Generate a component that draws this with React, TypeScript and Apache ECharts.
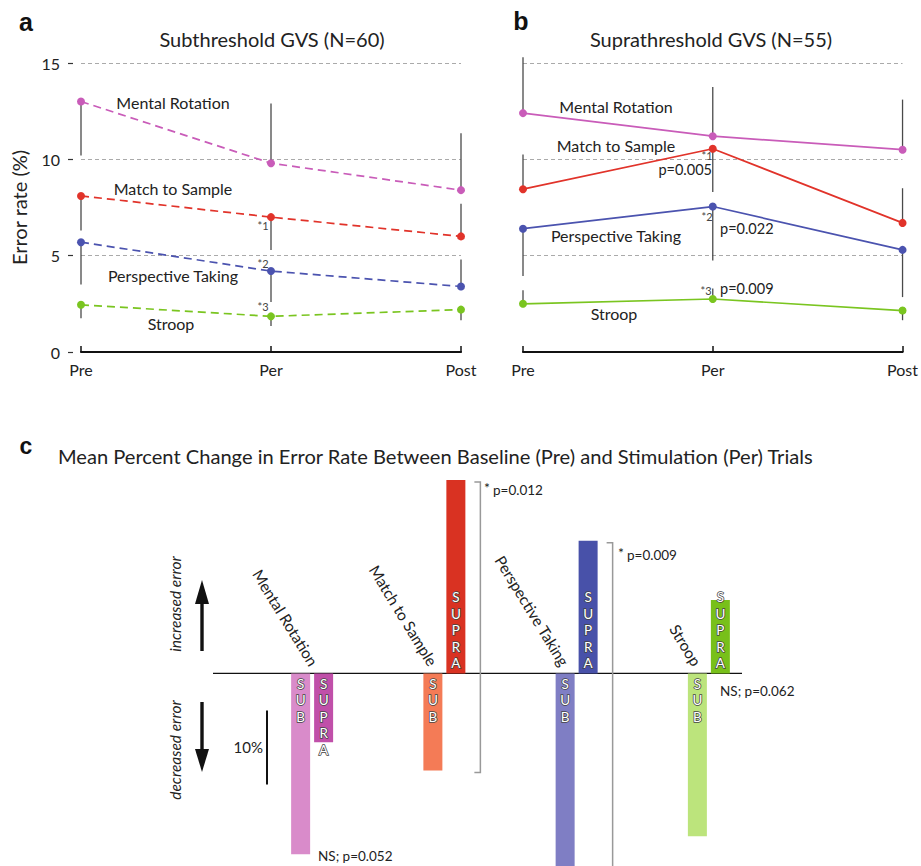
import React, { useEffect, useRef } from "react";
import * as echarts from "echarts";

// ---------- data ----------
const phases = ["Pre", "Per", "Post"];
const tasks = ["Mental Rotation", "Match to Sample", "Perspective Taking", "Stroop"];
const taskColors = ["#c95cb9", "#e1332a", "#4b53af", "#7ac520"];

// Panel a: Subthreshold GVS (N=60) – mean error rate (%)
const subMR = [13.0, 9.8, 8.4];
const subMtS = [8.1, 7.0, 6.0];
const subPT = [5.7, 4.2, 3.4];
const subStroop = [2.45, 1.85, 2.2];
// one-sided error bar end values
const subErrMR = [10.2, 12.9, 11.35];
const subErrMtS = [6.3, 5.3, 7.7];
const subErrPT = [3.5, 2.6, 4.8];
const subErrStroop = [1.75, 1.35, 1.65];

// Panel b: Suprathreshold GVS (N=55)
const supMR = [12.4, 11.2, 10.5];
const supMtS = [8.45, 10.55, 6.7];
const supPT = [6.4, 7.55, 5.3];
const supStroop = [2.5, 2.75, 2.15];
const supErrMR = [15.3, 13.75, 13.1];
const supErrMtS = [10.25, 8.3, 8.5];
const supErrPT = [3.95, 4.75, 2.85];
const supErrStroop = [3.2, 3.3, 1.65];

// Panel c: mean percent change in error rate (Pre -> Per)
const changeSub = [-24.4, -13.1, -28, -22];
const changeSupra = [-9.3, 26.1, 17.9, 9.9];
const subColors = ["#d98bca", "#f47b56", "#7f7ec4", "#bce47c"];
const supraColors = ["#c04fa9", "#d93222", "#4851a9", "#78c01a"];

const yTicks = [0, 5, 10, 15];

const FONT = 'Lato, "Open Sans", sans-serif';

const subSeries = [subMR, subMtS, subPT, subStroop];
const subErr = [subErrMR, subErrMtS, subErrPT, subErrStroop];
const supSeries = [supMR, supMtS, supPT, supStroop];
const supErr = [supErrMR, supErrMtS, supErrPT, supErrStroop];

function errData(means: number[][], ends: number[][]) {
  const out: number[][] = [];
  means.forEach((m, s) => m.forEach((v, i) => out.push([i, v, ends[s][i]])));
  return out;
}

const errRender = (params: any, api: any) => {
  const p1 = api.coord([api.value(0), api.value(1)]);
  const p2 = api.coord([api.value(0), api.value(2)]);
  return {
    type: "line",
    shape: { x1: p1[0], y1: p1[1], x2: p2[0], y2: p2[1] },
    style: { stroke: "#4a4a4a", lineWidth: 1.3 },
  };
};

function buildOption(): any {
  const xAxisCommon = {
    type: "category",
    data: phases,
    boundaryGap: false,
    axisLine: { lineStyle: { color: "#111", width: 2.2 } },
    axisTick: { inside: true, length: 6, lineStyle: { color: "#111", width: 1.5 } },
    axisLabel: { fontSize: 16, color: "#222", margin: 9, fontFamily: FONT },
  };
  const splitLine = { show: true, lineStyle: { color: "#aaa", type: [4, 3], width: 1 } };
  const lineSeries = (data: number[][], axis: number, dashed: boolean) =>
    data.map((d, s) => ({
      type: "line",
      name: tasks[s],
      xAxisIndex: axis,
      yAxisIndex: axis,
      data: d,
      symbol: "circle",
      symbolSize: 8,
      z: 3,
      itemStyle: { color: taskColors[s] },
      lineStyle: { color: taskColors[s], width: 1.7, type: dashed ? [8, 5] : "solid" },
    }));

  const letterLabel = {
    show: true,
    color: "#fff",
    fontSize: 13.5,
    lineHeight: 16.5,
    distance: 2,
    textBorderColor: "#444",
    textBorderWidth: 1.5,
    fontFamily: FONT,
  };

  return {
    animation: false,
    textStyle: { fontFamily: FONT },
    grid: [
      { left: 81, top: 63, width: 380, height: 289 },
      { left: 523, top: 63, width: 382, height: 289 },
      { left: 246, top: 466, width: 529, height: 405 },
    ],
    xAxis: [
      { ...xAxisCommon, gridIndex: 0 },
      { ...xAxisCommon, gridIndex: 1 },
      {
        type: "category",
        gridIndex: 2,
        data: tasks,
        axisLine: { show: false },
        axisTick: { show: false },
        axisLabel: { show: false },
      },
    ],
    yAxis: [
      {
        type: "value",
        gridIndex: 0,
        min: yTicks[0],
        max: yTicks[yTicks.length - 1],
        interval: 5,
        offset: 8,
        axisLine: { show: false },
        axisTick: { show: true, length: 5, lineStyle: { color: "#333", width: 1.2 } },
        axisLabel: { fontSize: 16, color: "#222", margin: 13, fontFamily: FONT },
        splitLine,
        name: "Error rate (%)",
        nameLocation: "middle",
        nameGap: 44,
        nameTextStyle: { fontSize: 20, color: "#222", fontFamily: FONT },
      },
      {
        type: "value",
        gridIndex: 1,
        min: yTicks[0],
        max: yTicks[yTicks.length - 1],
        interval: 5,
        axisLine: { show: false },
        axisTick: { show: false },
        axisLabel: { show: false },
        splitLine,
      },
      {
        type: "value",
        gridIndex: 2,
        min: -26,
        max: 28,
        show: false,
        splitLine: { show: false },
      },
    ],
    series: [
      {
        type: "custom",
        xAxisIndex: 0,
        yAxisIndex: 0,
        renderItem: errRender,
        data: errData(subSeries, subErr),
        encode: { x: 0, y: [1, 2] },
        z: 1,
      },
      {
        type: "custom",
        xAxisIndex: 1,
        yAxisIndex: 1,
        renderItem: errRender,
        data: errData(supSeries, supErr),
        encode: { x: 0, y: [1, 2] },
        z: 1,
      },
      ...lineSeries(subSeries, 0, true),
      ...lineSeries(supSeries, 1, false),
      {
        type: "bar",
        name: "SUB",
        xAxisIndex: 2,
        yAxisIndex: 2,
        barWidth: 19,
        barGap: "21%",
        data: changeSub.map((v, i) => ({
          value: v,
          itemStyle: { color: subColors[i] },
          label: { position: v < 0 ? "insideTop" : "insideBottom" },
        })),
        label: { ...letterLabel, formatter: "S\nU\nB" },
      },
      {
        type: "bar",
        name: "SUPRA",
        xAxisIndex: 2,
        yAxisIndex: 2,
        barWidth: 19,
        data: changeSupra.map((v, i) => ({
          value: v,
          itemStyle: { color: supraColors[i] },
          label: { position: v < 0 ? "insideTop" : "insideBottom" },
        })),
        label: { ...letterLabel, formatter: "S\nU\nP\nR\nA" },
      },
    ],
  };
}

function txt(text: string, x: number, y: number, o: any = {}): any {
  const { rotation, ...style } = o;
  return {
    type: "text",
    x,
    y,
    rotation: rotation || 0,
    silent: true,
    style: {
      text,
      x: 0,
      y: 0,
      fill: "#222",
      fontSize: 16,
      fontFamily: FONT,
      textAlign: "center",
      textVerticalAlign: "middle",
      ...style,
    },
  };
}

export default function App() {
  const ref = useRef<HTMLDivElement>(null);
  useEffect(() => {
    document.body.style.margin = "0";
    if (!ref.current) return;
    const chart = echarts.init(ref.current, null, { renderer: "svg" });
    chart.setOption(buildOption());

    const pc = (i: number, v: number) => chart.convertToPixel({ gridIndex: 2 }, [i, v]) as number[];
    const y0 = pc(0, 0)[1];
    const g: any[] = [];

    // panel letters + titles
    const bold = { fontFamily: '"Liberation Sans", Arial, sans-serif', fontWeight: "bold", fontSize: 25, fill: "#111" };
    g.push(txt("a", 26, 22, bold));
    g.push(txt("b", 521, 21, bold));
    g.push(txt("c", 26, 446, { ...bold, fontSize: 23 }));
    g.push(txt("Subthreshold GVS (N=60)", 272, 39, { fontSize: 20 }));
    g.push(txt("Suprathreshold GVS (N=55)", 711, 39, { fontSize: 20 }));
    g.push(
      txt("Mean Percent Change in Error Rate Between Baseline (Pre) and Stimulation (Per) Trials", 58, 456, {
        fontSize: 20.1,
        textAlign: "left",
      })
    );

    // panel a labels
    g.push(txt("Mental Rotation", 173, 102));
    g.push(txt("Match to Sample", 173, 188));
    g.push(txt("Perspective Taking", 173, 275));
    g.push(txt("Stroop", 171, 323));
    const star = { fontSize: 11, fill: "#444" };
    g.push(txt("*1", 263, 225, star));
    g.push(txt("*2", 263, 263, star));
    g.push(txt("*3", 263, 306, star));

    // panel b labels
    g.push(txt("Mental Rotation", 616, 106));
    g.push(txt("Match to Sample", 616, 145));
    g.push(txt("Perspective Taking", 616, 235));
    g.push(txt("Stroop", 614, 313));
    g.push(txt("*1", 707, 155, star));
    g.push(txt("*2", 707, 216, star));
    g.push(txt("*3", 706, 290, star));
    const pv = { fontSize: 14.5, textAlign: "left" };
    g.push(txt("p=0.005", 712, 169, { ...pv, textAlign: "right" }));
    g.push(txt("p=0.022", 720, 228, pv));
    g.push(txt("p=0.009", 720, 288, pv));

    // panel c: zero line
    g.push({ type: "line", silent: true, shape: { x1: 213, y1: y0, x2: 742, y2: y0 }, style: { stroke: "#111", lineWidth: 1.2 } });

    // arrows
    g.push({ type: "rect", silent: true, shape: { x: 200.3, y: 600, width: 3.4, height: 51 }, style: { fill: "#111" } });
    g.push({ type: "polygon", silent: true, shape: { points: [[202, 580], [195, 604], [209, 604]] }, style: { fill: "#111" } });
    g.push({ type: "rect", silent: true, shape: { x: 200.3, y: 702, width: 3.4, height: 50 }, style: { fill: "#111" } });
    g.push({ type: "polygon", silent: true, shape: { points: [[195, 749], [209, 749], [202, 772]] }, style: { fill: "#111" } });
    g.push(txt("increased error", 175, 604, { rotation: Math.PI / 2, fontStyle: "italic", fontSize: 15.5 }));
    g.push(txt("decreased error", 175, 750, { rotation: Math.PI / 2, fontStyle: "italic", fontSize: 15.5 }));

    // 10% scale bar
    const sTop = pc(0, -5)[1];
    const sBot = pc(0, -15)[1];
    g.push({ type: "line", silent: true, shape: { x1: 267, y1: sTop, x2: 267, y2: sBot }, style: { stroke: "#111", lineWidth: 2 } });
    g.push(txt("10%", 263, pc(0, -10)[1], { textAlign: "right", fontSize: 15 }));

    // significance brackets (SUPRA top to SUB bottom)
    [1, 2].forEach((i) => {
      const cx = pc(i, 0)[0];
      const bx = cx + 36;
      const top = pc(i, changeSupra[i])[1] + 2;
      const bot = pc(i, changeSub[i])[1] + 2;
      g.push({
        type: "polyline",
        silent: true,
        shape: { points: [[bx - 6, top], [bx, top], [bx, bot], [bx - 6, bot]] },
        style: { stroke: "#999", lineWidth: 1.5, fill: null },
      });
    });
    const ann = { fontSize: 13.5, textAlign: "left" };
    g.push(txt("*", 484, 487, { ...ann, fontSize: 14 }));
    g.push(txt("p=0.012", 493, 490, ann));
    g.push(txt("*", 618, 552, { ...ann, fontSize: 14 }));
    g.push(txt("p=0.009", 627, 555, ann));
    g.push(txt("NS; p=0.052", 318, 856, ann));
    g.push(txt("NS; p=0.062", 720, 691, ann));

    // rotated task labels ending at each pair
    const labelOffsets = [2, -11, -11.5, -11.5];
    tasks.forEach((t, i) => {
      const cx = pc(i, 0)[0];
      g.push(
        txt(t, cx + labelOffsets[i], y0 - 9, {
          textAlign: "right",
          rotation: -1.02,
          fontSize: 15.5,
        })
      );
    });

    chart.setOption({ graphic: g });
    return () => chart.dispose();
  }, []);
  return <div ref={ref} style={{ width: 921, height: 866 }} />;
}
